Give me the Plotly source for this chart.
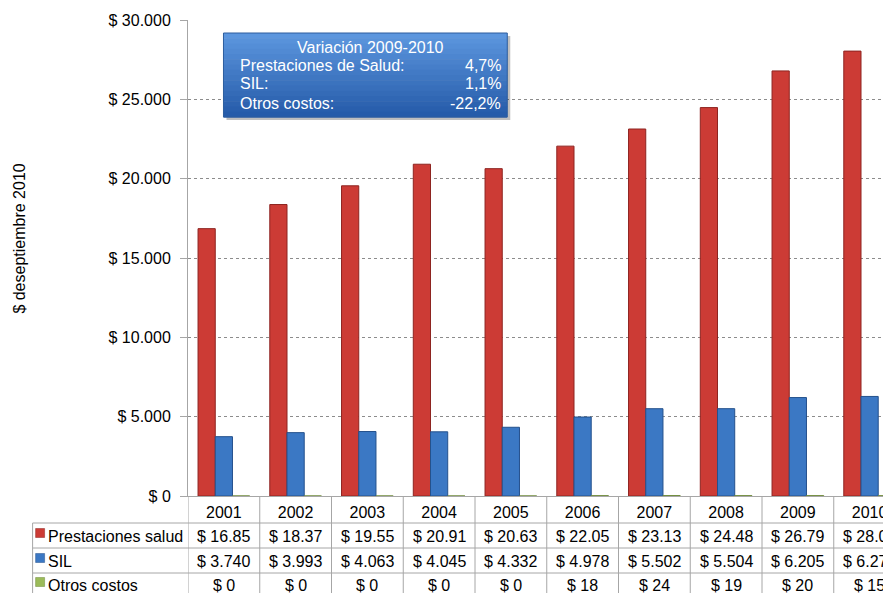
import plotly.graph_objects as go

years = ["2001", "2002", "2003", "2004", "2005", "2006", "2007", "2008", "2009", "2010"]
prestaciones = [16850, 18370, 19550, 20910, 20630, 22050, 23130, 24480, 26790, 28040]
sil = [3740, 3993, 4063, 4045, 4332, 4978, 5502, 5504, 6205, 6274]
otros = [0, 0, 0, 0, 0, 18, 24, 19, 20, 15]
series_names = ["Prestaciones salud", "SIL", "Otros costos"]
y_ticks = [0, 5000, 10000, 15000, 20000, 25000, 30000]
var_title = "Variación 2009-2010"
var_labels = ["Prestaciones de Salud:", "SIL:", "Otros costos:"]
var_values = ["4,7%", "1,1%", "-22,2%"]

W, H = 891, 593
OFF = 8  # page body margin: screen px = figure px + OFF
L, R, T, B = 187.5 - OFF, 0, 20 - OFF, H - (496 - OFF)
FONT = "Liberation Sans, Arial, sans-serif"
FS = 16
RED, BLUE, GREEN = "#CC3B35", "#3B78C4", "#9BBB59"
RED_L, BLUE_L, GREEN_L = "#8E2420", "#24518C", "#6E8A3A"
GRID = "#A6A6A6"
PW, PH = W - L - R, H - T - B


def px_x(v):
    return (v - OFF - L) / PW


def px_y(v):
    return (H - B - (v - OFF)) / PH


def money_thousands(v, dec):
    return "$ " + f"{v / 1000:.{dec}f}"


fig = go.Figure()
for name, vals, col, lc in [
    (series_names[0], prestaciones, RED, RED_L),
    (series_names[1], sil, BLUE, BLUE_L),
    (series_names[2], otros, GREEN, GREEN_L),
]:
    fig.add_trace(go.Bar(x=years, y=vals, name=name,
                         marker=dict(color=col, line=dict(color=lc, width=1))))

n = len(years)
col_w = 71.8
x_hi = -0.5 + PW / col_w

fig.update_layout(
    width=W, height=H,
    margin=dict(l=L, r=R, t=T, b=B),
    paper_bgcolor="white", plot_bgcolor="white",
    barmode="group", bargap=0.28, bargroupgap=0,
    showlegend=False,
    font=dict(family=FONT, size=FS, color="#000000"),
    xaxis=dict(type="category", range=[-0.5, x_hi], showgrid=False,
               showline=True, linecolor=GRID, linewidth=1, ticks="",
               tickfont=dict(size=FS, family=FONT, color="#000"),
               ticklabelstandoff=2),
    yaxis=dict(range=[0, 30000], tickvals=y_ticks,
               ticktext=["$ " + (f"{t:,}".replace(",", ".")) for t in y_ticks],
               showgrid=True, gridcolor="#8C8C8C", griddash="dot", gridwidth=1,
               showline=True, linecolor=GRID, linewidth=1,
               ticks="outside", ticklen=7, tickcolor=GRID,
               ticklabelstandoff=6, zeroline=False,
               tickfont=dict(size=FS, family=FONT, color="#000")),
)

shapes = []
annots = []
axis_y = px_y(496)
bottom_y = px_y(H + OFF)
row_lines = [px_y(523), px_y(548), px_y(573)]
row_centers = [px_y(536), px_y(561), px_y(585)]

# table vertical lines (column boundaries)
for k in range(n + 1):
    shapes.append(dict(type="line", xref="x", yref="paper", x0=k - 0.5, x1=k - 0.5,
                       y0=bottom_y, y1=axis_y, line=dict(color=GRID, width=1)))
# horizontal row lines
for yl in row_lines:
    shapes.append(dict(type="line", xref="paper", yref="paper", x0=px_x(32), x1=1,
                       y0=yl, y1=yl, line=dict(color=GRID, width=1)))
# label column left border
shapes.append(dict(type="line", xref="paper", yref="paper", x0=px_x(32), x1=px_x(32),
                   y0=bottom_y, y1=row_lines[0], line=dict(color=GRID, width=1)))

# row labels with swatches
for name, yc, col, lc in zip(series_names, row_centers, [RED, BLUE, GREEN], [RED_L, BLUE_L, GREEN_L]):
    shapes.append(dict(type="rect", xref="paper", yref="paper",
                       x0=px_x(35), x1=px_x(44), y0=yc - 1.5 / PH, y1=yc + 7.5 / PH,
                       fillcolor=col, line=dict(color=lc, width=0.5)))
    annots.append(dict(xref="paper", yref="paper", x=px_x(45), y=yc, text=name,
                       showarrow=False, xanchor="left", yanchor="middle",
                       font=dict(size=FS, family=FONT, color="#000")))

# table values
for i, yr in enumerate(years):
    cells = [money_thousands(prestaciones[i], 2), money_thousands(sil[i], 3), f"$ {otros[i]}"]
    for txt, yc in zip(cells, row_centers):
        annots.append(dict(xref="x", yref="paper", x=i, y=yc, text=txt, showarrow=False,
                           xanchor="center", yanchor="middle",
                           font=dict(size=FS, family=FONT, color="#000")))

# variation box: shadow + gradient
bx0, bx1, by_top, by_bot = 223, 507, 33, 117
shapes.append(dict(type="rect", xref="paper", yref="paper",
                   x0=px_x(bx0 + 3), x1=px_x(bx1 + 3), y0=px_y(by_bot + 3), y1=px_y(by_top + 3),
                   fillcolor="rgba(0,0,0,0.25)", line=dict(width=0)))
steps = 16
top_c = (92, 150, 222)
bot_c = (38, 92, 170)
for s in range(steps):
    t = s / (steps - 1)
    c = tuple(int(top_c[j] + (bot_c[j] - top_c[j]) * t) for j in range(3))
    ya = by_top + (by_bot - by_top) * s / steps
    yb = by_top + (by_bot - by_top) * (s + 1) / steps + 0.5
    shapes.append(dict(type="rect", xref="paper", yref="paper",
                       x0=px_x(bx0), x1=px_x(bx1), y0=px_y(yb), y1=px_y(ya),
                       fillcolor=f"rgb{c}", line=dict(width=0)))
shapes.append(dict(type="rect", xref="paper", yref="paper",
                   x0=px_x(bx0), x1=px_x(bx1), y0=px_y(by_bot), y1=px_y(by_top),
                   fillcolor="rgba(0,0,0,0)", line=dict(color="#2C5D9E", width=1)))

annots.append(dict(xref="paper", yref="paper", x=px_x(370), y=px_y(47), text=var_title,
                   showarrow=False, xanchor="center", yanchor="middle",
                   font=dict(size=FS, family=FONT, color="white")))
for lab, val, yy in zip(var_labels, var_values, [66, 84, 103]):
    annots.append(dict(xref="paper", yref="paper", x=px_x(238), y=px_y(yy), text=lab,
                       showarrow=False, xanchor="left", yanchor="middle",
                       font=dict(size=FS, family=FONT, color="white")))
    annots.append(dict(xref="paper", yref="paper", x=px_x(503), y=px_y(yy), text=val,
                       showarrow=False, xanchor="right", yanchor="middle",
                       font=dict(size=FS, family=FONT, color="white")))

# y-axis title
annots.append(dict(xref="paper", yref="paper", x=px_x(18), y=px_y(239),
                   text="$ deseptiembre 2010", textangle=-90, showarrow=False,
                   xanchor="center", yanchor="middle",
                   font=dict(size=FS, family=FONT, color="#000")))

fig.update_layout(shapes=shapes, annotations=annots)
fig.write_html("out.html")
